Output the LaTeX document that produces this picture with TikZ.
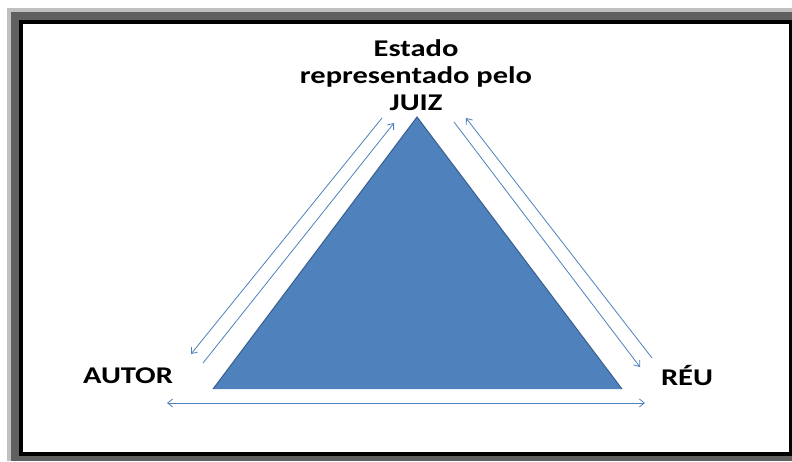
\documentclass[tikz,border=0pt]{standalone}
\usepackage{fontspec}
\setmainfont{Carlito}
\newfontfamily\widefont[FakeStretch=1.27]{Carlito}
\usetikzlibrary{arrows.meta}

\definecolor{office}{HTML}{4F81BD}
\definecolor{officedark}{HTML}{3A5F8E}
\definecolor{frameA}{HTML}{C0C0C0}
\definecolor{frameB}{HTML}{606060}

\tikzset{
  party/.style={font=\widefont\fontsize{24}{27}\selectfont\bfseries, inner sep=0pt},
  relation/.style={draw=office, line width=0.8pt, -{Straight Barb[length=5pt,width=8pt]}},
}

\begin{document}
\begin{tikzpicture}[x=1pt, y=-1pt]

\useasboundingbox (0,0) rectangle (792,461);

% frame
\fill[frameA] (7,8) rectangle (792,461);
\fill[frameB] (11,12) rectangle (792,461);
\fill[black] (19,20) rectangle (792,456);
\fill[white] (23,24) rectangle (789,452);

% triangle
\coordinate (top) at (417,117);
\coordinate (left) at (213,389);
\coordinate (right) at (622,389);
\fill[office] (top) -- (right) -- (left) -- cycle;
\draw[officedark, line width=1pt, line join=miter] (left) -- (top) -- (right);

% labels
\node[party, align=center] (juiz) at (416,75) {Estado\\representado pelo\\JUIZ};
\node[party] (autor) at (128,376) {AUTOR};
\node[party] (reu) at (687,376) {RÉU};

% ends of the connectors
\coordinate (a1) at (382,118);
\coordinate (a2) at (191,354);
\coordinate (b1) at (203,363);
\coordinate (b2) at (394,123);
\coordinate (c1) at (454,122);
\coordinate (c2) at (640,367);
\coordinate (d1) at (652,358);
\coordinate (d2) at (466,118);
\coordinate (e1) at (167,403);
\coordinate (e2) at (645,403);

\draw[relation] (a1) -- (a2);
\draw[relation] (b1) -- (b2);
\draw[relation] (c1) -- (c2);
\draw[relation] (d1) -- (d2);
\draw[relation, {Straight Barb[length=5pt,width=8pt]}-{Straight Barb[length=5pt,width=8pt]}] (e1) -- (e2);

\end{tikzpicture}
\end{document}
